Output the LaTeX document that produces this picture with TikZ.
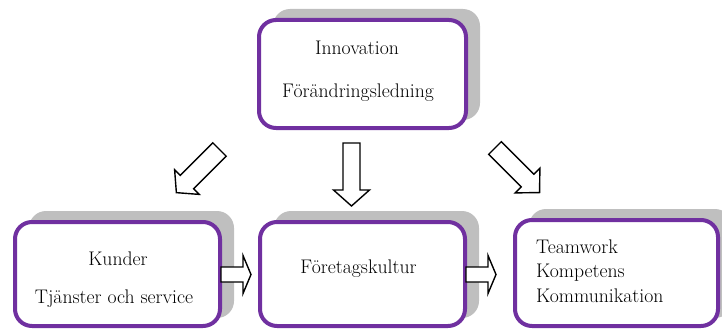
\documentclass[tikz,border=0pt]{standalone}
\usetikzlibrary{backgrounds,calc}
\definecolor{boxpurple}{HTML}{7030A0}
\definecolor{shadowgray}{HTML}{BFBFBF}
\newcommand{\blockarr}[7]{% x,y,angle,L,Ls,s,h
  \begin{scope}[shift={(#1,#2)},rotate=#3]
    \draw[arrowline] (0,-#6/2) -- (#5,-#6/2) -- (#5,-#7/2) -- (#4,0) -- (#5,#7/2) -- (#5,#6/2) -- (0,#6/2) -- cycle;
  \end{scope}}
\begin{document}
\begin{tikzpicture}[x=1pt,y=-1pt,
  box/.style={draw=boxpurple,line width=4pt,rounded corners=17pt,fill=white,inner sep=0pt},
  arrowline/.style={draw=black,line width=1.4pt,fill=white,line join=miter},
  txt/.style={font=\fontsize{19.7}{24}\selectfont,inner sep=0pt,anchor=base}]
\useasboundingbox (0,0) rectangle (722,329);
\clip (0,0) rectangle (722,329);
\node[box,minimum width=207pt,minimum height=108pt] (top) at (362.5,74) {};
\node[box,minimum width=205pt,minimum height=104pt] (left) at (117.5,274) {};
\node[box,minimum width=205pt,minimum height=104pt] (mid) at (362.5,274) {};
\node[box,minimum width=203pt,minimum height=106pt] (right) at (616.5,273) {};
\begin{pgfonlayer}{background}
\foreach \b in {top,left,mid,right}{
  \fill[shadowgray,rounded corners=17pt] ($(\b.north west)+(16,-9)$) rectangle ($(\b.south east)+(12,-10)$);
}
\end{pgfonlayer}
\node[txt] (t1) at (357,55) {Innovation};
\node[txt] (t2) at (358,97) {Förändringsledning};
\node[txt] (l1) at (118,265) {Kunder};
\node[txt] (l2) at (114,303) {Tjänster och service};
\node[txt] (m1) at (358.5,273) {Företagskultur};
\node[txt,anchor=base west] (r1) at (536,253) {Teamwork};
\node[txt,anchor=base west] (r2) at (536,277) {Kompetens};
\node[txt,anchor=base west] (r3) at (536,302) {Kommunikation};
\blockarr{219.5}{149.5}{225}{61}{46}{19}{35}
\blockarr{495}{148}{-45}{63}{46}{18}{35}
\blockarr{351.5}{143}{-90}{63}{47}{17}{36}
\blockarr{221}{274.5}{0}{30}{22}{15}{38}
\blockarr{466}{274.5}{0}{30}{22}{15}{38}
\end{tikzpicture}
\end{document}
